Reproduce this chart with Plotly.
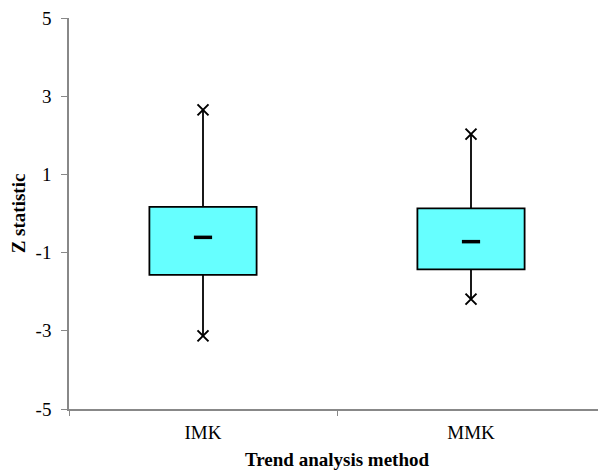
import plotly.graph_objects as go

categories = ["IMK", "MMK"]
minimum = [-3.13, -2.19]
q1 = [-1.57, -1.43]
median = [-0.61, -0.72]
q3 = [0.17, 0.13]
maximum = [2.65, 2.03]

y_ticks = [-5, -3, -1, 1, 3, 5]

font_family = "Liberation Serif, Times New Roman, serif"

fig = go.Figure()

# Boxes (interquartile range)
fig.add_trace(go.Bar(
    x=categories,
    base=q1,
    y=[b - a for a, b in zip(q1, q3)],
    width=0.4,
    marker=dict(color="#66FFFF", line=dict(color="black", width=1.8)),
    hoverinfo="skip",
    showlegend=False,
))

# Whiskers
wx, wy = [], []
for c, lo, a, b, hi in zip(categories, minimum, q1, q3, maximum):
    wx += [c, c, None, c, c, None]
    wy += [hi, b, None, a, lo, None]
fig.add_trace(go.Scatter(
    x=wx, y=wy, mode="lines",
    line=dict(color="black", width=1.8),
    hoverinfo="skip", showlegend=False,
))

# Min / max markers
fig.add_trace(go.Scatter(
    x=categories + categories,
    y=maximum + minimum,
    mode="markers",
    marker=dict(symbol="x-thin", size=11, line=dict(color="black", width=2)),
    showlegend=False,
))

# Median markers
fig.add_trace(go.Scatter(
    x=categories,
    y=median,
    mode="markers",
    marker=dict(symbol="line-ew", size=13, line=dict(color="black", width=3.5)),
    showlegend=False,
))

fig.update_layout(
    width=606, height=470,
    margin=dict(l=61, r=9, t=10, b=69, autoexpand=False),
    paper_bgcolor="white",
    plot_bgcolor="white",
    font=dict(family=font_family, size=19, color="black"),
)

fig.update_xaxes(
    type="category",
    automargin=False,
    showline=True, linecolor="#888888", linewidth=1.5,
    ticks="outside", tickson="boundaries", ticklen=5, tickcolor="#888888",
    ticklabelstandoff=5,
    ticklabeloverflow="allow",
    showgrid=False, zeroline=False,
    tickfont=dict(family=font_family, size=19),
    title=dict(text="<b>Trend analysis method</b>",
               font=dict(family=font_family, size=19), standoff=11),
)

fig.update_yaxes(
    range=[-5, 5],
    automargin=False,
    tickvals=y_ticks,
    ticktext=[str(v) for v in y_ticks],
    showline=True, linecolor="#888888", linewidth=1.5,
    ticks="outside", ticklen=6, tickcolor="#888888",
    ticklabelstandoff=6,
    ticklabeloverflow="allow",
    showgrid=False, zeroline=False,
    tickfont=dict(family=font_family, size=19),
    title=dict(text="<b>Z statistic</b>",
               font=dict(family=font_family, size=19), standoff=6),
)

fig.write_html("out.html")
